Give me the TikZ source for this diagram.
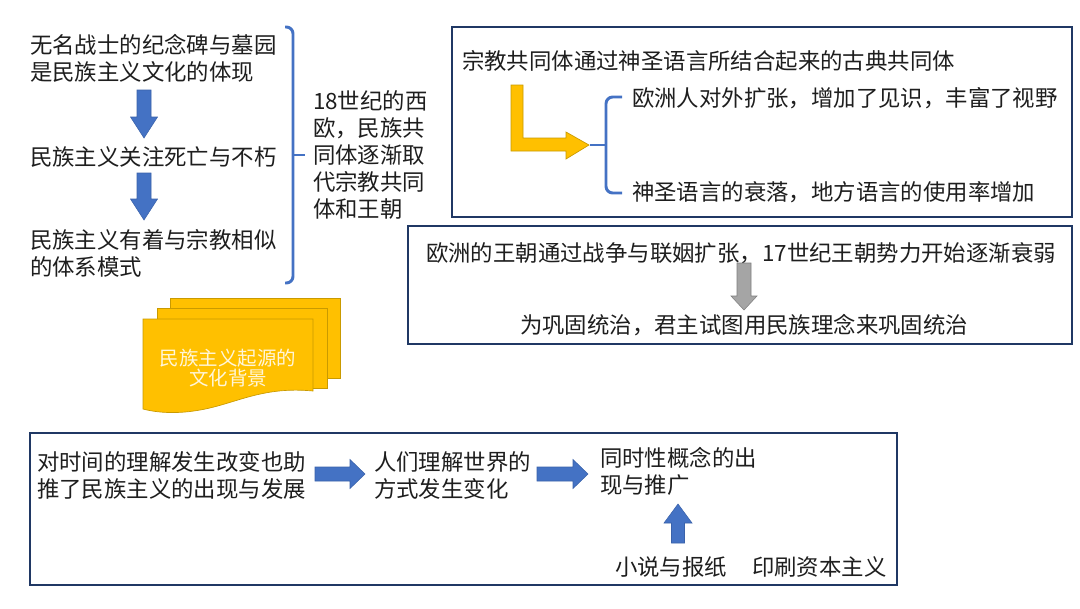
\documentclass[tikz,border=0pt]{standalone}
\usepackage{fontspec}
\setmainfont{Noto Sans CJK SC}
\definecolor{navy}{HTML}{203864}
\definecolor{accblue}{HTML}{4472C4}
\definecolor{accblueedge}{HTML}{3A62AA}
\definecolor{gold}{HTML}{FFC000}
\definecolor{goldedge}{HTML}{C99A00}
\definecolor{txtc}{HTML}{1E1E1E}
\definecolor{grayfill}{HTML}{A5A5A5}
\definecolor{grayedge}{HTML}{7F7F7F}
\definecolor{doctext}{HTML}{FFF6DA}
\tikzset{
  txt/.style={inner sep=0pt, outer sep=0pt, text=txtc, font=\fontsize{16.8pt}{20.25pt}\selectfont, align=left},
  frame/.style={draw=navy, line width=1.5pt},
  bluearrow/.style={fill=accblue, draw=accblueedge, line width=0.4pt},
  grayarrow/.style={fill=grayfill, draw=grayedge, line width=0.4pt},
  bracepath/.style={draw=accblue, line width=2.2pt, rounded corners=5pt},
  docsheet/.style={fill=gold, draw=goldedge, line width=0.5pt},
}
\begin{document}
\begin{tikzpicture}[x=0.75pt,y=-0.75pt]
\useasboundingbox (0,0) rectangle (1080,608);
\fill[white] (0,0) rectangle (1080,608);

% ---------- left column ----------
\node[txt, anchor=west] (t1) at (30,58.5) {无名战士的纪念碑与墓园\\是民族主义文化的体现};
\node[txt, anchor=west] (t2) at (30,157) {民族主义关注死亡与不朽};
\node[txt, anchor=west] (t3) at (30,253.5) {民族主义有着与宗教相似\\的体系模式};
\path[bluearrow] (137,90) -- (151,90) -- (151,117) -- (157.5,117) -- (144,138)
  -- (130.5,117) -- (137,117) -- cycle;
\path[bluearrow] (137,173) -- (151,173) -- (151,199) -- (157.5,199) -- (144,220)
  -- (130.5,199) -- (137,199) -- cycle;

% left brace
\draw[bracepath] (285,27) -- (293,27) -- (293,283) -- (285,283);
\draw[bracepath] (293,155) -- (305,155);
\node[txt, anchor=west] (t4) at (313,155) {18世纪的西\\欧，民族共\\同体逐渐取\\代宗教共同\\体和王朝};

% multi-document shape
\path[docsheet] (170,298) -- (340,298) -- (340,378) -- (170,378) -- cycle;
\path[docsheet] (157,308) -- (327,308) -- (327,388) -- (157,388) -- cycle;
\path[docsheet] (143,319) -- (313,319) -- (313,391)
   .. controls (262,386) and (235,404) .. (200,410)
   .. controls (178,414) and (158,413) .. (143,409) -- cycle;
\node[inner sep=0pt, align=center, text=doctext, font=\fontsize{14.6pt}{15pt}\selectfont] (doc) at (228,368) {民族主义起源的\\文化背景};

% ---------- top right box ----------
\draw[frame] (452,27) rectangle (1072,217);
\node[txt, anchor=west] (r1) at (462,61) {宗教共同体通过神圣语言所结合起来的古典共同体};
\node[txt, anchor=west] (r2) at (632,98) {欧洲人对外扩张，增加了见识，丰富了视野};
\node[txt, anchor=west] (r3) at (632,192) {神圣语言的衰落，地方语言的使用率增加};
\path[fill=gold, draw=goldedge, line width=0.5pt]
  (511,85) -- (523,85) -- (523,138) -- (566,138) -- (566,132) -- (589,145)
  -- (566,159) -- (566,151) -- (511,151) -- cycle;
\draw[bracepath] (622,97) -- (606,97) -- (606,193) -- (622,193);
\draw[bracepath] (606,145) -- (590,145);

% ---------- middle right box ----------
\draw[frame] (408,226) rectangle (1072,344);
\node[txt] (m1) at (741,253) {欧洲的王朝通过战争与联姻扩张，17世纪王朝势力开始逐渐衰弱};
\node[txt] (m2) at (744,325) {为巩固统治，君主试图用民族理念来巩固统治};
\path[grayarrow] (737,263) -- (751,263) -- (751,296) -- (757,296) -- (744,310)
  -- (731,296) -- (737,296) -- cycle;

% ---------- bottom box ----------
\draw[frame] (30,433) rectangle (897,585);
\node[txt, anchor=west] (b1) at (37,475) {对时间的理解发生改变也助\\推了民族主义的出现与发展};
\node[txt, anchor=west] (b2) at (374,475) {人们理解世界的\\方式发生变化};
\node[txt, anchor=west] (b3) at (600,471.5) {同时性概念的出\\现与推广};
\node[txt, anchor=west] (b4) at (615,567) {小说与报纸};
\node[txt, anchor=west] (b5) at (752,567) {印刷资本主义};
\path[bluearrow] (315,467) -- (350,467) -- (350,459.5) -- (365,474) -- (350,488.5)
  -- (350,481) -- (315,481) -- cycle;
\path[bluearrow] (537,467) -- (573,467) -- (573,459.5) -- (588,474) -- (573,488.5)
  -- (573,481) -- (537,481) -- cycle;
\path[bluearrow] (671.5,543) -- (684.5,543) -- (684.5,523) -- (692,523) -- (678,504)
  -- (664,523) -- (671.5,523) -- cycle;
\end{tikzpicture}
\end{document}
